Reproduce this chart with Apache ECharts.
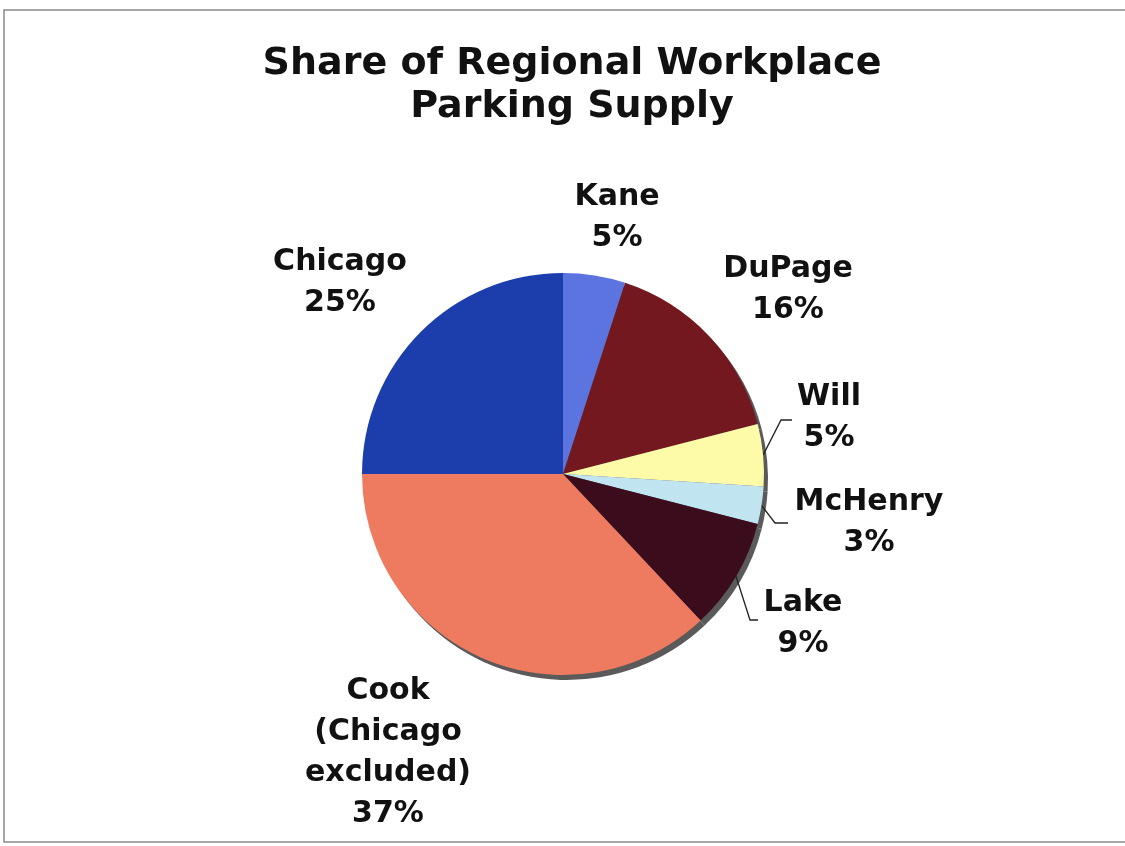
<!DOCTYPE html>
<html>
<head>
<meta charset="utf-8">
<script src="https://cdn.jsdelivr.net/npm/echarts@6/dist/echarts.min.js"></script>
<style>
  html, body { margin: 0; padding: 0; background: #fff; }
  #chart { width: 1125px; height: 846px; }
</style>
</head>
<body>
<div id="chart"></div>
<script>
// Share of regional workplace parking supply, by county (percent)
const regions = ['Kane', 'DuPage', 'Will', 'McHenry', 'Lake', 'Cook\n(Chicago\nexcluded)', 'Chicago'];
const shares = [5, 16, 5, 3, 9, 37, 25];
const sliceColors = ['#5b74e0', '#741820', '#fdfaa8', '#c0e4f0', '#3a0c1c', '#ee7a60', '#1c3eac'];

// Label anchor points (text centre) and leader-line bends per region
const labelSpots = {
  'Kane': { x: 617, y: 218 },
  'DuPage': { x: 788, y: 290 },
  'Will': { x: 829, y: 418, bend: [781, 420], end: [792, 420] },
  'McHenry': { x: 869, y: 523, bend: [775, 523], end: [788, 523] },
  'Lake': { x: 803, y: 624, bend: [750, 620], end: [758, 620] },
  'Cook\n(Chicago\nexcluded)': { x: 388, y: 753 },
  'Chicago': { x: 340, y: 283 }
};

const CENTER = [563, 474];
const RADIUS = 201;
const FONT = '"DejaVu Sans", Verdana, sans-serif';

const chart = echarts.init(document.getElementById('chart'));

chart.setOption({
  animation: false,
  backgroundColor: '#ffffff',
  title: {
    text: 'Share of Regional Workplace\nParking Supply',
    left: 567,
    top: 38,
    textAlign: 'center',
    textStyle: {
      fontFamily: FONT,
      fontWeight: 'bold',
      fontSize: 38,
      lineHeight: 43,
      color: '#111111'
    }
  },
  graphic: [
    {
      type: 'rect',
      shape: { x: 4, y: 10, width: 1130, height: 832 },
      style: { fill: 'none', stroke: '#8a8a8a', lineWidth: 1.5 },
      z: 0
    }
  ],
  series: [
    {
      // drop shadow under the pie
      type: 'pie',
      silent: true,
      center: [CENTER[0] + 4, CENTER[1] + 5],
      radius: RADIUS,
      startAngle: 90,
      clockwise: true,
      label: { show: false },
      labelLine: { show: false },
      itemStyle: { color: '#5a5a5a', borderWidth: 0 },
      emphasis: { disabled: true },
      data: shares.map((v, i) => ({ name: regions[i], value: v })),
      z: 1
    },
    {
      type: 'pie',
      center: CENTER,
      radius: RADIUS,
      startAngle: 90,
      clockwise: true,
      avoidLabelOverlap: false,
      itemStyle: { borderWidth: 0 },
      label: {
        show: true,
        position: 'outside',
        formatter: p => p.name + '\n' + p.value + '%',
        fontFamily: FONT,
        fontWeight: 'bold',
        fontSize: 30,
        lineHeight: 41,
        color: '#111111',
        align: 'center'
      },
      labelLine: {
        show: true,
        lineStyle: { color: '#222222', width: 1.3 }
      },
      labelLayout: params => {
        const name = regions[params.dataIndex];
        const spot = labelSpots[name];
        const out = {
          x: spot.x,
          y: spot.y,
          align: 'center',
          verticalAlign: 'middle'
        };
        if (spot.bend && params.labelLinePoints) {
          out.labelLinePoints = [params.labelLinePoints[0], spot.bend, spot.end];
        } else if (params.labelLinePoints) {
          const p0 = params.labelLinePoints[0];
          out.labelLinePoints = [p0, p0, p0];
        }
        return out;
      },
      emphasis: { disabled: true },
      data: shares.map((v, i) => ({
        name: regions[i],
        value: v,
        itemStyle: { color: sliceColors[i] }
      })),
      z: 2
    }
  ]
});
</script>
</body>
</html>
